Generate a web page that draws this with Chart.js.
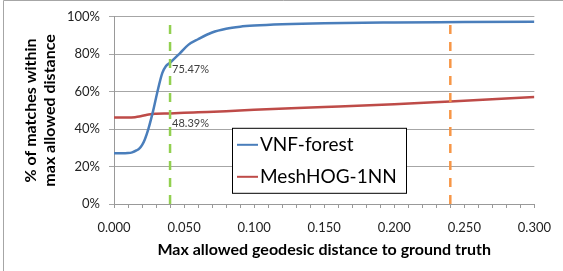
<!DOCTYPE html>
<html>
<head>
<meta charset="utf-8">
<script src="https://cdn.jsdelivr.net/npm/chart.js@4.4.1/dist/chart.umd.min.js"></script>
<style>
  html, body { margin: 0; padding: 0; background: #fff; }
  canvas { display: block; }
</style>
</head>
<body>
<canvas id="myChart" width="563" height="271"></canvas>
<script>
// VNF-forest curve
const vnfX = [0, 0.005, 0.010, 0.013, 0.016, 0.018, 0.020, 0.022, 0.0245, 0.028, 0.031, 0.0345, 0.037, 0.040, 0.047, 0.053, 0.060, 0.070, 0.080, 0.090, 0.100, 0.120, 0.150, 0.200, 0.250, 0.300];
const vnfY = [27.1, 27.1, 27.2, 27.6, 28.6, 29.6, 31.5, 34.5, 40, 50, 60, 70, 73.6, 75.47, 80.5, 85, 88, 91.6, 93.6, 94.7, 95.3, 96.0, 96.6, 97.0, 97.2, 97.4];
// MeshHOG-1NN curve
const meshX = [0, 0.010, 0.015, 0.018, 0.022, 0.026, 0.030, 0.040, 0.050, 0.060, 0.080, 0.100, 0.150, 0.200, 0.240, 0.300];
const meshY = [46.2, 46.2, 46.4, 46.7, 47.4, 48.0, 48.2, 48.39, 48.7, 49.0, 49.6, 50.4, 51.8, 53.3, 54.8, 57.1];

const seriesNames = ['VNF-forest', 'MeshHOG-1NN'];
const seriesColors = ['#4a7ebb', '#be4b48'];

// vertical reference lines
const refX = [0.04, 0.24];
const refColors = ['#92d050', '#f79646'];
const refTop = 96.5;

// value labels shown at this x
const labelAtX = 0.04;

const yTicks = [0, 20, 40, 60, 80, 100];
const xLabels = ['0.000', '0.050', '0.100', '0.150', '0.200', '0.250', '0.300'];
const xMinorStep = 0.01;

const FONT = 'Lato, "Liberation Sans", sans-serif';

const toPts = (xs, ys) => xs.map((x, i) => ({ x: x, y: ys[i] }));

const refSets = refX.map((x, i) => ({
    label: 'ref' + i,
    data: [{ x: x, y: 0 }, { x: x, y: refTop }],
    borderColor: refColors[i],
    borderWidth: 2.5,
    borderDash: [9, 8],
    pointRadius: 0,
    fill: false
}));

const seriesSets = [[vnfX, vnfY], [meshX, meshY]].map((s, i) => ({
    label: seriesNames[i],
    data: toPts(s[0], s[1]),
    borderColor: seriesColors[i],
    borderWidth: 2.5,
    pointRadius: 0,
    tension: 0.4,
    cubicInterpolationMode: 'monotone',
    fill: false
}));

const frame = {
    id: 'frame',
    beforeDraw(chart) {
        const c = chart.ctx;
        c.save();
        c.fillStyle = '#fff';
        c.fillRect(0, 0, chart.width, chart.height);
        c.strokeStyle = '#a6a6a6';
        c.lineWidth = 1;
        c.beginPath();
        c.moveTo(3.5, chart.height);
        c.lineTo(3.5, 0.5);
        c.lineTo(chart.width, 0.5);
        c.stroke();
        c.restore();
    }
};

const valueLabels = {
    id: 'valueLabels',
    afterDatasetsDraw(chart) {
        const c = chart.ctx;
        const xs = chart.scales.x, ys = chart.scales.y;
        const offs = [7, 10];
        c.save();
        c.font = '11px ' + FONT;
        c.fillStyle = '#404040';
        c.textAlign = 'left';
        c.textBaseline = 'middle';
        [[vnfX, vnfY], [meshX, meshY]].forEach((s, i) => {
            const k = s[0].indexOf(labelAtX);
            const v = s[1][k];
            c.fillText(v.toFixed(2) + '%', xs.getPixelForValue(labelAtX) + 2, ys.getPixelForValue(v) + offs[i]);
        });
        c.restore();
    }
};

const legendBox = {
    id: 'legendBox',
    afterDraw(chart) {
        const c = chart.ctx;
        const a = chart.chartArea;
        const l = a.left + 118, t = a.top + 111, w = 174, h = 65;
        c.save();
        c.fillStyle = '#fff';
        c.fillRect(l, t, w, h);
        c.strokeStyle = '#000';
        c.lineWidth = 1;
        c.strokeRect(l + 0.5, t + 0.5, w, h);
        c.font = '19px ' + FONT;
        c.textBaseline = 'middle';
        c.fillStyle = '#000';
        seriesNames.forEach((n, i) => {
            const y = t + 17 + i * 32;
            c.strokeStyle = seriesColors[i];
            c.lineWidth = 2;
            c.beginPath();
            c.moveTo(l + 5, y);
            c.lineTo(l + 26, y);
            c.stroke();
            c.fillText(n, l + 28, y);
        });
        c.restore();
    }
};

const ctx = document.getElementById('myChart').getContext('2d');

const myChart = new Chart(ctx, {
    type: 'line',
    data: { datasets: refSets.concat(seriesSets) },
    plugins: [frame, valueLabels, legendBox],
    options: {
        responsive: false,
        animation: false,
        devicePixelRatio: 1,
        layout: { padding: { top: 15, right: 23, bottom: 0, left: 0 } },
        plugins: { legend: { display: false }, tooltip: { enabled: false } },
        scales: {
            x: {
                type: 'linear',
                min: 0,
                max: 0.3,
                afterFit: (s) => { s.height = 67; },
                afterBuildTicks: (s) => {
                    const t = [];
                    for (let i = 0; i * xMinorStep <= 0.3 + 1e-9; i++) t.push({ value: +(i * xMinorStep).toFixed(3) });
                    s.ticks = t;
                },
                grid: { drawOnChartArea: false, drawTicks: true, tickLength: 4, color: '#999' },
                border: { color: '#999' },
                ticks: {
                    autoSkip: false,
                    maxRotation: 0,
                    padding: 12,
                    color: '#222',
                    font: { family: FONT, size: 13 },
                    callback: (v, i) => (i % 5 === 0 ? xLabels[i / 5] : '')
                },
                title: {
                    display: true,
                    text: 'Max allowed geodesic distance to ground truth',
                    color: '#000',
                    font: { family: FONT, size: 16, weight: 'bold' },
                    padding: { top: 0, bottom: 12 }
                }
            },
            y: {
                min: 0,
                max: 100,
                afterFit: (s) => { s.width = 114; },
                afterBuildTicks: (s) => { s.ticks = yTicks.map(v => ({ value: v })); },
                grid: { color: '#a6a6a6', tickLength: 5 },
                border: { color: '#999' },
                ticks: {
                    padding: 9,
                    color: '#222',
                    font: { family: FONT, size: 13 },
                    callback: (v) => v + '%'
                },
                title: {
                    display: true,
                    text: ['% of matches within', 'max allowed distance'],
                    color: '#000',
                    font: { family: FONT, size: 16, weight: 'bold', lineHeight: 1.15 },
                    padding: { top: 22, bottom: 0 }
                }
            }
        }
    }
});
</script>
</body>
</html>
